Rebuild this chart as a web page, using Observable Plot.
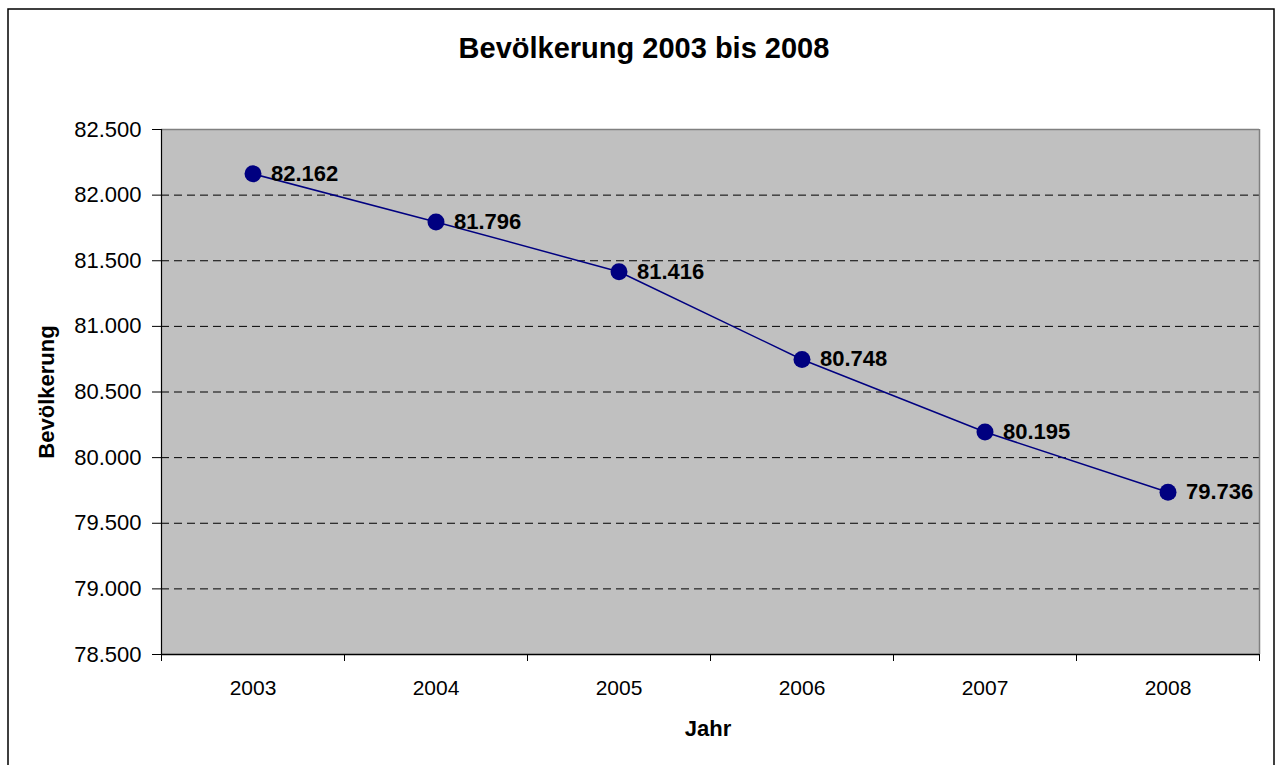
<!DOCTYPE html>
<html>
<head>
<meta charset="utf-8">
<script src="https://cdn.jsdelivr.net/npm/d3@7"></script>
<script src="https://cdn.jsdelivr.net/npm/@observablehq/plot@0.6"></script>
<style>
  html, body { margin: 0; padding: 0; background: #fff; }
  #chart svg { display: block; }
</style>
</head>
<body>
<div id="chart"></div>
<script>
const years = [2003, 2004, 2005, 2006, 2007, 2008];
const population = [82162, 81796, 81416, 80748, 80195, 79736];
const yTicks = [78500, 79000, 79500, 80000, 80500, 81000, 81500, 82000, 82500];
const gridValues = [79000, 79500, 80000, 80500, 81000, 81500, 82000];
const titleText = "Bevölkerung 2003 bis 2008";
const xLabel = "Jahr";
const yLabel = "Bevölkerung";

const data = years.map((y, i) => ({year: y, value: population[i]}));
const boundaries = [years[0] - 0.5, ...years.map(y => y + 0.5)];
const de = d3.formatLocale({decimal: ",", thousands: ".", grouping: [3], currency: ["", "€"]});
const fmt = de.format(",d");
const font = "'Liberation Sans', Arial, sans-serif";

const W = 1281, H = 765;
const chart = Plot.plot({
  width: W,
  height: H,
  marginLeft: 161,
  marginRight: 22,
  marginTop: 129,
  marginBottom: 111,
  style: {fontFamily: font, fontSize: "21px", color: "#000", background: "transparent"},
  x: {type: "linear", domain: [boundaries[0], boundaries[boundaries.length - 1]]},
  y: {domain: [yTicks[0], yTicks[yTicks.length - 1]]},
  marks: [
    Plot.frame({fill: "#c0c0c0", stroke: null}),
    Plot.ruleY(gridValues, {stroke: "#000", strokeDasharray: "8,5", strokeWidth: 1}),
    Plot.ruleY([yTicks[yTicks.length - 1]], {stroke: "#808080", strokeWidth: 1.5}),
    Plot.ruleX([boundaries[boundaries.length - 1]], {stroke: "#808080", strokeWidth: 1.5}),
    Plot.ruleX([boundaries[0]], {stroke: "#000", strokeWidth: 1.2}),
    Plot.ruleY([yTicks[0]], {stroke: "#000", strokeWidth: 1.5}),
    Plot.axisY({ticks: yTicks, tickSize: 9, tickPadding: 11, tickFormat: fmt, label: null, fontSize: 22, stroke: "#000"}),
    Plot.axisX({ticks: years, tickSize: 0, tickPadding: 26, tickFormat: d => String(d), label: null, fontSize: 21}),
    Plot.axisX({ticks: boundaries, tickSize: 7, text: null, label: null, stroke: "#000"}),
    Plot.line(data, {x: "year", y: "value", stroke: "#000080", strokeWidth: 1.5}),
    Plot.dot(data, {x: "year", y: "value", r: 8.5, fill: "#000080", stroke: null}),
    Plot.text(data, {x: "year", y: "value", text: d => fmt(d.value), dx: 18, textAnchor: "start", fontWeight: "bold", fontSize: 22, fill: "#000"})
  ]
});

const svg = d3.select(chart);
svg.append("rect")
  .attr("x", 8).attr("y", 9).attr("width", 1266).attr("height", 770)
  .attr("fill", "none").attr("stroke", "#000").attr("stroke-width", 1.5);
svg.append("text")
  .attr("x", 644).attr("y", 58)
  .attr("text-anchor", "middle")
  .attr("font-family", font).attr("font-weight", "bold").attr("font-size", 29)
  .attr("fill", "#000")
  .text(titleText);
svg.append("text")
  .attr("x", 708).attr("y", 736)
  .attr("text-anchor", "middle")
  .attr("font-family", font).attr("font-weight", "bold").attr("font-size", 22)
  .attr("fill", "#000")
  .text(xLabel);
svg.append("text")
  .attr("transform", "translate(54,392) rotate(-90)")
  .attr("text-anchor", "middle")
  .attr("font-family", font).attr("font-weight", "bold").attr("font-size", 22)
  .attr("fill", "#000")
  .text(yLabel);

document.getElementById("chart").appendChild(chart);
</script>
</body>
</html>
